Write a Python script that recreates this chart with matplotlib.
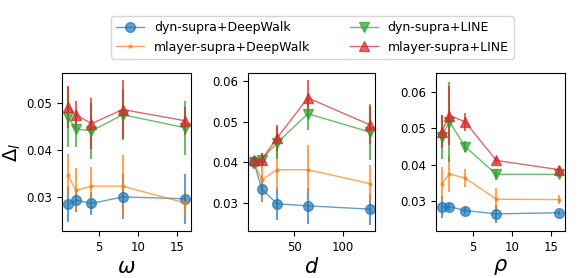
import numpy as np
import matplotlib.pyplot as plt

labels = ["dyn-supra+DeepWalk", "mlayer-supra+DeepWalk", "dyn-supra+LINE", "mlayer-supra+LINE"]
markers = ["o", ".", "v", "^"]
colors = ["tab:blue", "tab:orange", "tab:green", "tab:red"]

omega = [1, 2, 4, 8, 16]
omega_mean = [
    [0.0284, 0.0293, 0.0286, 0.0300, 0.0296],
    [0.0346, 0.0314, 0.0323, 0.0323, 0.0287],
    [0.0471, 0.0446, 0.0441, 0.0476, 0.0448],
    [0.0493, 0.0476, 0.0457, 0.0487, 0.0463],
]
omega_err = [
    [0.0038, 0.0025, 0.0025, 0.0048, 0.0053],
    [0.0045, 0.0047, 0.0040, 0.0066, 0.0028],
    [0.0065, 0.0040, 0.0060, 0.0055, 0.0058],
    [0.0045, 0.0030, 0.0055, 0.0063, 0.0030],
]

dims = [8, 16, 32, 64, 128]
dims_mean = [
    [0.0401, 0.0335, 0.0298, 0.0293, 0.0285],
    [0.0401, 0.0357, 0.0382, 0.0382, 0.0348],
    [0.0400, 0.0407, 0.0448, 0.0520, 0.0475],
    [0.0405, 0.0407, 0.0460, 0.0559, 0.0493],
]
dims_err = [
    [0.0008, 0.0033, 0.0040, 0.0045, 0.0038],
    [0.0008, 0.0050, 0.0050, 0.0060, 0.0045],
    [0.0015, 0.0015, 0.0040, 0.0040, 0.0068],
    [0.0010, 0.0015, 0.0033, 0.0045, 0.0047],
]

rho = [1, 2, 4, 8, 16]
rho_mean = [
    [0.0285, 0.0286, 0.0275, 0.0266, 0.0269],
    [0.0348, 0.0375, 0.0364, 0.0306, 0.0305],
    [0.0477, 0.0518, 0.0450, 0.0374, 0.0374],
    [0.0491, 0.0535, 0.0518, 0.0412, 0.0387],
]
rho_err = [
    [0.0030, 0.0010, 0.0010, 0.0025, 0.0005],
    [0.0045, 0.0050, 0.0025, 0.0030, 0.0012],
    [0.0060, 0.0110, 0.0015, 0.0015, 0.0008],
    [0.0045, 0.0080, 0.0025, 0.0010, 0.0010],
]

fig = plt.figure(figsize=(5.81, 2.78), dpi=100)
rects = [[0.107, 0.169, 0.222, 0.568],
         [0.427, 0.169, 0.219, 0.568],
         [0.750, 0.169, 0.222, 0.568]]
panels = [(omega, omega_mean, omega_err, r"$\omega$", (0.0227, 0.0565)),
          (dims, dims_mean, dims_err, r"$d$", (0.0231, 0.0620)),
          (rho, rho_mean, rho_err, r"$\rho$", (0.0219, 0.0651))]

handles = []
for k, (x, means, errs, xl, yl) in enumerate(panels):
    ax = fig.add_axes(rects[k])
    for i in range(4):
        ms = 4 if markers[i] == "." else 7
        h = ax.errorbar(x, means[i], yerr=errs[i], marker=markers[i], color=colors[i],
                        ms=ms, lw=1, elinewidth=1.5, alpha=0.7, label=labels[i])
        if k == 0:
            handles.append(h[0])
    ax.set_xlabel(xl, fontsize=15, labelpad=2)
    ax.set_ylim(*yl)
    ax.tick_params(labelsize=8.5)
    if k == 0:
        ax.set_ylabel(r"$\Delta_l$", fontsize=14)
        ax.yaxis.set_label_coords(-0.305, 0.5)

fig.legend(handles, labels, ncol=2, loc="center", bbox_to_anchor=(0.538, 0.865),
           fontsize=9, columnspacing=3.2, handlelength=2.2)
fig.savefig("out.png", dpi=100)
